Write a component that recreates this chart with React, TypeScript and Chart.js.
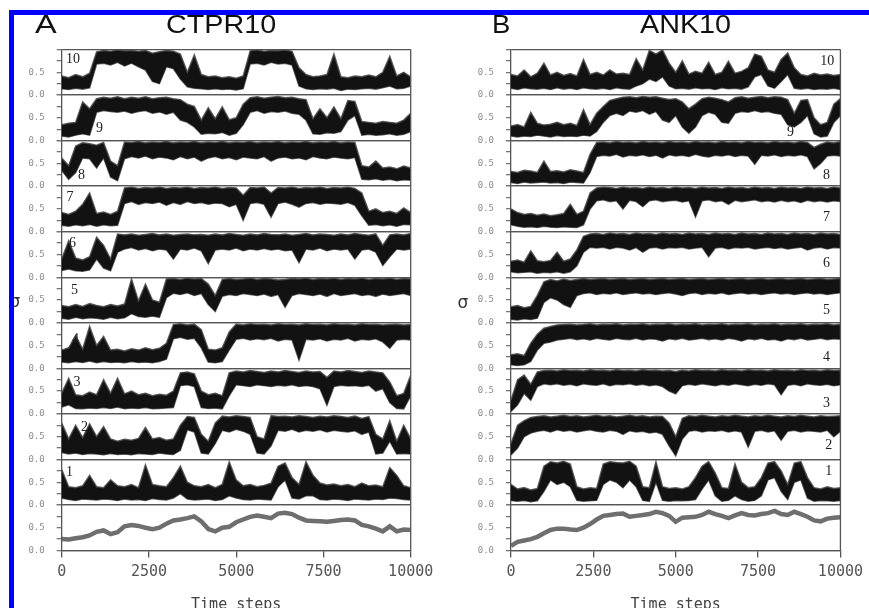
import React, { useEffect, useRef } from 'react';
import { Chart, registerables } from 'chart.js';

Chart.register(...registerables);

// ---------- shared axes ----------
const TIME = [0,200,400,600,800,1000,1200,1400,1600,1800,2000,2200,2400,2600,2800,3000,3200,3400,3600,3800,4000,4200,4400,4600,4800,5000,5200,5400,5600,5800,6000,6200,6400,6600,6800,7000,7200,7400,7600,7800,8000,8200,8400,8600,8800,9000,9200,9400,9600,9800,10000];
const X_TICKS = [0, 2500, 5000, 7500, 10000];
const X_TICK_TEXT = ['0', '2500', '5000', '7500', '10000'];
const Y_TICK_VALUES = [0, 0.5];
const Y_TICK_TEXT = ['0.0', '0.5'];
const STRIP_NAMES = ['1', '2', '3', '4', '5', '6', '7', '8', '9', '10'];

// ---------- Panel A: CTPR10 (upper / lower edge of each trace band) ----------
const A10_HI = [0.42,0.38,0.45,0.40,0.48, 0.95,0.98,0.96,0.99,0.97, 0.98,0.96,0.98,0.92,0.95, 0.98,0.96,0.90,0.50,0.88, 0.45,0.40,0.42,0.38,0.40, 0.37,0.42,0.97,0.99,0.96, 0.98,0.97,0.99,0.96,0.60, 0.45,0.40,0.42,0.45,0.90, 0.40,0.38,0.42,0.40,0.44, 0.40,0.50,0.85,0.42,0.50, 0.40];
const A10_LO = [0.14,0.12,0.15,0.13,0.16, 0.68,0.70,0.66,0.72,0.64, 0.70,0.62,0.55,0.30,0.25, 0.62,0.58,0.35,0.18,0.15, 0.14,0.12,0.14,0.12,0.13, 0.11,0.14,0.68,0.70,0.66, 0.72,0.68,0.70,0.66,0.20, 0.14,0.12,0.14,0.13,0.15, 0.10,0.13,0.12,0.14,0.15, 0.13,0.16,0.20,0.14,0.15, 0.20];
const A9_HI = [0.35,0.38,0.40,0.85,0.70, 0.92,0.95,0.93,0.96,0.92, 0.95,0.93,0.96,0.92,0.94, 0.95,0.92,0.90,0.80,0.75, 0.45,0.72,0.48,0.74,0.46, 0.50,0.80,0.94,0.96,0.93, 0.95,0.97,0.94,0.95,0.92, 0.90,0.48,0.70,0.50,0.74, 0.48,0.88,0.86,0.42,0.40, 0.38,0.42,0.40,0.38,0.45, 0.60];
const A9_LO = [0.10,0.08,0.12,0.15,0.12, 0.62,0.66,0.64,0.62,0.65, 0.60,0.64,0.66,0.60,0.63, 0.58,0.62,0.45,0.40,0.30, 0.14,0.16,0.15,0.18,0.12, 0.16,0.35,0.62,0.66,0.60, 0.64,0.62,0.65,0.60,0.58, 0.45,0.15,0.14,0.17,0.16, 0.20,0.45,0.55,0.12,0.14, 0.12,0.13,0.15,0.12,0.14, 0.20];
const A8_HI = [0.62,0.45,0.88,0.95,0.93, 0.90,0.96,0.55,0.45,0.97, 0.96,0.98,0.95,0.97,0.96, 0.98,0.95,0.97,0.96,0.98, 0.95,0.97,0.96,0.98,0.95, 0.97,0.96,0.98,0.95,0.97, 0.96,0.98,0.95,0.97,0.96, 0.98,0.95,0.97,0.96,0.98, 0.95,0.97,0.96,0.45,0.42, 0.55,0.40,0.42,0.38,0.44, 0.40];
const A8_LO = [0.35,0.15,0.30,0.62,0.60, 0.40,0.62,0.20,0.12,0.60, 0.65,0.62,0.66,0.60,0.64, 0.62,0.58,0.65,0.60,0.64, 0.55,0.62,0.65,0.60,0.63, 0.58,0.64,0.62,0.60,0.65, 0.55,0.62,0.64,0.60,0.62, 0.58,0.65,0.62,0.60,0.64, 0.62,0.60,0.63,0.15,0.14, 0.16,0.13,0.15,0.12,0.14, 0.13];
const A7_HI = [0.42,0.38,0.45,0.60,0.85, 0.40,0.43,0.38,0.45,0.96, 0.98,0.95,0.97,0.96,0.98, 0.95,0.97,0.96,0.98,0.95, 0.97,0.96,0.98,0.95,0.97, 0.96,0.80,0.97,0.96,0.98, 0.85,0.97,0.96,0.98,0.95, 0.97,0.96,0.98,0.95,0.97, 0.96,0.98,0.95,0.85,0.45, 0.50,0.42,0.45,0.40,0.52, 0.42];
const A7_LO = [0.14,0.12,0.15,0.13,0.16, 0.12,0.15,0.13,0.14,0.62, 0.66,0.60,0.64,0.62,0.65, 0.58,0.64,0.60,0.66,0.62, 0.64,0.60,0.63,0.62,0.55, 0.60,0.25,0.62,0.64,0.60, 0.32,0.62,0.65,0.60,0.54, 0.62,0.64,0.60,0.63,0.62, 0.60,0.64,0.58,0.35,0.14, 0.16,0.13,0.15,0.12,0.16, 0.15];
const A6_HI = [0.40,0.80,0.42,0.38,0.45, 0.88,0.70,0.40,0.95,0.93, 0.95,0.92,0.94,0.96,0.93, 0.95,0.92,0.94,0.95,0.93, 0.94,0.92,0.95,0.93,0.96, 0.94,0.92,0.95,0.93,0.96, 0.94,0.93,0.95,0.92,0.94, 0.96,0.93,0.95,0.94,0.92, 0.95,0.93,0.96,0.94,0.92, 0.95,0.70,0.93,0.95,0.93, 0.96];
const A6_LO = [0.15,0.18,0.14,0.13,0.16, 0.40,0.20,0.14,0.55,0.62, 0.65,0.60,0.63,0.58,0.62, 0.60,0.40,0.62,0.60,0.64, 0.58,0.30,0.60,0.62,0.60, 0.64,0.58,0.62,0.60,0.63, 0.60,0.62,0.58,0.60,0.32, 0.62,0.60,0.64,0.58,0.62, 0.60,0.62,0.40,0.60,0.62, 0.55,0.26,0.45,0.62,0.60, 0.62];
const A5_HI = [0.38,0.35,0.40,0.36,0.42, 0.38,0.35,0.40,0.37,0.41, 0.96,0.48,0.85,0.50,0.45, 0.96,0.97,0.95,0.98,0.96, 0.97,0.85,0.60,0.95,0.97, 0.95,0.96,0.98,0.95,0.97, 0.96,0.94,0.95,0.97,0.96, 0.98,0.95,0.97,0.96,0.98, 0.95,0.97,0.96,0.98,0.95, 0.97,0.96,0.98,0.95,0.97, 0.96];
const A5_LO = [0.10,0.08,0.12,0.09,0.11, 0.10,0.08,0.12,0.09,0.11, 0.20,0.14,0.12,0.15,0.12, 0.55,0.65,0.62,0.66,0.60, 0.64,0.40,0.25,0.58,0.62, 0.60,0.64,0.62,0.60,0.63, 0.58,0.62,0.34,0.60,0.64, 0.62,0.60,0.63,0.58,0.64, 0.60,0.62,0.64,0.60,0.62, 0.58,0.63,0.60,0.62,0.64, 0.60];
const A4_HI = [0.40,0.45,0.72,0.42,0.92, 0.50,0.70,0.40,0.42,0.38, 0.43,0.40,0.45,0.41,0.44, 0.55,0.96,0.98,0.95,0.97, 0.85,0.42,0.40,0.45,0.80, 0.97,0.95,0.98,0.96,0.97, 0.95,0.98,0.96,0.97,0.95, 0.98,0.96,0.97,0.95,0.98, 0.96,0.97,0.95,0.98,0.96, 0.97,0.95,0.96,0.97,0.95, 0.96];
const A4_LO = [0.14,0.12,0.15,0.13,0.16, 0.12,0.15,0.13,0.14,0.12, 0.15,0.13,0.14,0.12,0.15, 0.20,0.65,0.68,0.64,0.66, 0.45,0.14,0.12,0.15,0.40, 0.64,0.66,0.62,0.65,0.63, 0.66,0.60,0.64,0.62,0.18, 0.64,0.62,0.65,0.60,0.64, 0.62,0.66,0.60,0.64,0.62, 0.65,0.58,0.44,0.62,0.64, 0.62];
const A3_HI = [0.45,0.78,0.42,0.40,0.48, 0.42,0.75,0.45,0.78,0.44, 0.50,0.42,0.45,0.40,0.43, 0.41,0.50,0.90,0.92,0.88, 0.50,0.42,0.45,0.40,0.90, 0.94,0.92,0.95,0.93,0.91, 0.94,0.92,0.95,0.93,0.91, 0.94,0.92,0.93,0.80,0.94, 0.92,0.95,0.93,0.91,0.94, 0.92,0.90,0.70,0.40,0.45, 0.85];
const A3_LO = [0.15,0.20,0.12,0.11,0.13, 0.12,0.14,0.12,0.15,0.11, 0.13,0.12,0.14,0.11,0.12, 0.13,0.14,0.62,0.64,0.60, 0.14,0.12,0.13,0.11,0.40, 0.64,0.62,0.60,0.64,0.62, 0.60,0.63,0.61,0.64,0.60, 0.62,0.60,0.55,0.19,0.60, 0.63,0.61,0.62,0.60,0.63, 0.50,0.55,0.25,0.12,0.11, 0.40];
const A2_HI = [0.80,0.45,0.75,0.48,0.78, 0.50,0.72,0.45,0.40,0.44, 0.42,0.46,0.70,0.45,0.48, 0.42,0.45,0.75,0.94,0.92, 0.55,0.40,0.80,0.95,0.93, 0.96,0.94,0.92,0.50,0.45, 0.96,0.94,0.95,0.93,0.96, 0.94,0.92,0.95,0.93,0.96, 0.94,0.92,0.95,0.90,0.94, 0.55,0.45,0.85,0.40,0.75, 0.45];
const A2_LO = [0.15,0.12,0.14,0.11,0.13, 0.12,0.10,0.13,0.11,0.12, 0.10,0.13,0.12,0.11,0.14, 0.12,0.11,0.20,0.65,0.60, 0.14,0.12,0.35,0.64,0.60, 0.66,0.62,0.55,0.14,0.12, 0.30,0.64,0.62,0.66,0.60, 0.64,0.62,0.65,0.60,0.64, 0.62,0.60,0.63,0.55,0.60, 0.12,0.14,0.40,0.12,0.13, 0.12];
const A1_HI = [0.78,0.40,0.38,0.42,0.65, 0.40,0.38,0.55,0.42,0.40, 0.45,0.38,0.88,0.45,0.42, 0.40,0.60,0.85,0.50,0.42, 0.40,0.45,0.38,0.45,0.95, 0.55,0.42,0.45,0.40,0.43, 0.48,0.85,0.92,0.60,0.45, 0.95,0.65,0.48,0.44,0.46, 0.42,0.45,0.40,0.48,0.42, 0.44,0.40,0.82,0.65,0.42, 0.38];
const A1_LO = [0.15,0.12,0.10,0.13,0.12, 0.11,0.13,0.12,0.10,0.13, 0.11,0.12,0.10,0.14,0.12, 0.11,0.15,0.25,0.13,0.11, 0.12,0.13,0.10,0.12,0.20, 0.15,0.12,0.11,0.13,0.12, 0.11,0.40,0.55,0.15,0.13, 0.20,0.20,0.12,0.11,0.13, 0.12,0.10,0.13,0.12,0.11, 0.13,0.12,0.15,0.14,0.12, 0.11];
const A_AVG = [0.25,0.24,0.27,0.29,0.33, 0.41,0.44,0.36,0.40,0.53, 0.56,0.54,0.50,0.47,0.50, 0.59,0.66,0.68,0.71,0.75, 0.64,0.47,0.42,0.50,0.52, 0.62,0.68,0.74,0.77,0.74, 0.71,0.81,0.83,0.80,0.72, 0.66,0.65,0.64,0.63,0.65, 0.67,0.68,0.66,0.56,0.53, 0.48,0.42,0.53,0.42,0.46, 0.45];
const A_LABEL_T = [223, 653, 438, 395, 367, 309, 238, 567, 1083, 324];
const A_LABEL_V = [0.72, 0.70, 0.69, 0.64, 0.71, 0.74, 0.75, 0.24, 0.27, 0.79];

// ---------- Panel B: ANK10 ----------
const B10_HI = [0.45,0.42,0.55,0.40,0.48, 0.70,0.44,0.50,0.43,0.47, 0.42,0.78,0.45,0.50,0.44, 0.55,0.46,0.48,0.45,0.80, 0.55,0.98,0.90,0.99,0.70, 0.50,0.75,0.46,0.52,0.48, 0.72,0.45,0.50,0.74,0.48, 0.52,0.60,0.90,0.85,0.55, 0.50,0.78,0.92,0.60,0.45, 0.42,0.48,0.44,0.46,0.43, 0.45];
const B10_LO = [0.15,0.12,0.16,0.14,0.13, 0.15,0.12,0.16,0.13,0.15, 0.12,0.16,0.14,0.13,0.15, 0.12,0.16,0.14,0.13,0.20, 0.25,0.35,0.30,0.40,0.20, 0.14,0.15,0.13,0.16,0.14, 0.15,0.12,0.16,0.14,0.15, 0.13,0.18,0.40,0.45,0.20, 0.15,0.30,0.45,0.15,0.13, 0.15,0.12,0.14,0.13,0.15, 0.12];
const B9_HI = [0.32,0.35,0.30,0.62,0.38, 0.34,0.36,0.40,0.35,0.38, 0.33,0.68,0.35,0.60,0.75, 0.88,0.92,0.95,0.96,0.94, 0.97,0.95,0.96,0.93,0.90, 0.92,0.85,0.70,0.80,0.92, 0.95,0.93,0.90,0.85,0.94, 0.96,0.93,0.95,0.97,0.94, 0.96,0.95,0.90,0.60,0.88, 0.90,0.50,0.35,0.40,0.80, 0.92];
const B9_LO = [0.10,0.08,0.10,0.09,0.12, 0.10,0.08,0.11,0.09,0.10, 0.09,0.12,0.10,0.20,0.40, 0.55,0.60,0.55,0.65,0.62, 0.66,0.58,0.64,0.45,0.40, 0.55,0.30,0.16,0.30,0.55, 0.62,0.58,0.40,0.38,0.60, 0.64,0.62,0.66,0.62,0.64, 0.60,0.58,0.35,0.30,0.40, 0.55,0.15,0.08,0.10,0.40, 0.55];
const B8_HI = [0.32,0.30,0.35,0.33,0.30, 0.55,0.32,0.34,0.31,0.36, 0.33,0.30,0.70,0.96,0.97, 0.95,0.98,0.96,0.97,0.95, 0.98,0.96,0.97,0.95,0.98, 0.96,0.97,0.95,0.98,0.96, 0.97,0.95,0.98,0.96,0.97, 0.95,0.98,0.96,0.97,0.95, 0.98,0.96,0.97,0.95,0.98, 0.96,0.85,0.92,0.97,0.95, 0.98];
const B8_LO = [0.08,0.06,0.09,0.07,0.08, 0.09,0.07,0.08,0.06,0.09, 0.08,0.07,0.30,0.65,0.68, 0.66,0.70,0.64,0.68,0.66, 0.69,0.65,0.68,0.62,0.69, 0.66,0.68,0.65,0.70,0.66, 0.64,0.68,0.66,0.69,0.65, 0.68,0.66,0.48,0.68,0.66, 0.69,0.65,0.68,0.66,0.69, 0.65,0.38,0.50,0.66,0.68, 0.66];
const B7_HI = [0.50,0.42,0.38,0.40,0.36, 0.39,0.35,0.37,0.40,0.60, 0.38,0.45,0.85,0.96,0.98, 0.97,0.95,0.98,0.96,0.97, 0.95,0.98,0.96,0.97,0.95, 0.98,0.96,0.97,0.95,0.98, 0.96,0.97,0.95,0.98,0.96, 0.97,0.95,0.98,0.96,0.97, 0.95,0.98,0.96,0.97,0.95, 0.98,0.96,0.97,0.95,0.98, 0.96];
const B7_LO = [0.15,0.12,0.10,0.11,0.09, 0.12,0.10,0.09,0.11,0.10, 0.09,0.15,0.50,0.68,0.70, 0.66,0.68,0.50,0.69,0.66, 0.55,0.68,0.70,0.66,0.68, 0.69,0.65,0.68,0.32,0.68, 0.70,0.66,0.68,0.60,0.69, 0.66,0.68,0.70,0.66,0.68, 0.65,0.69,0.66,0.68,0.64, 0.69,0.66,0.68,0.65,0.68, 0.66];
const B6_HI = [0.35,0.38,0.33,0.58,0.36, 0.34,0.37,0.55,0.35,0.40, 0.60,0.90,0.95,0.96,0.94, 0.97,0.95,0.96,0.94,0.97, 0.95,0.96,0.94,0.97,0.95, 0.96,0.94,0.97,0.95,0.96, 0.94,0.97,0.95,0.96,0.94, 0.97,0.95,0.96,0.94,0.97, 0.95,0.96,0.94,0.97,0.95, 0.96,0.94,0.97,0.95,0.96, 0.94];
const B6_LO = [0.12,0.10,0.11,0.12,0.09, 0.11,0.10,0.12,0.09,0.12, 0.25,0.55,0.66,0.64,0.66, 0.62,0.66,0.64,0.60,0.65, 0.55,0.64,0.66,0.62,0.65, 0.64,0.66,0.62,0.64,0.66, 0.45,0.64,0.66,0.62,0.65, 0.64,0.66,0.62,0.64,0.66, 0.63,0.65,0.62,0.64,0.66, 0.60,0.64,0.66,0.62,0.65, 0.64];
const B5_HI = [0.35,0.38,0.33,0.36,0.60, 0.90,0.95,0.92,0.96,0.93, 0.95,0.97,0.95,0.96,0.97, 0.95,0.96,0.97,0.95,0.96, 0.97,0.95,0.96,0.97,0.95, 0.96,0.97,0.95,0.96,0.97, 0.95,0.96,0.97,0.95,0.96, 0.97,0.95,0.96,0.97,0.95, 0.96,0.97,0.95,0.96,0.97, 0.95,0.96,0.97,0.95,0.96, 0.97];
const B5_LO = [0.08,0.06,0.09,0.07,0.10, 0.45,0.55,0.50,0.40,0.34, 0.60,0.64,0.66,0.62,0.65, 0.63,0.66,0.62,0.64,0.66, 0.63,0.65,0.62,0.64,0.66, 0.63,0.60,0.64,0.66,0.62, 0.65,0.63,0.66,0.62,0.64, 0.66,0.63,0.65,0.62,0.64, 0.66,0.63,0.65,0.62,0.64, 0.66,0.63,0.65,0.62,0.64, 0.66];
const B4_HI = [0.30,0.32,0.28,0.55,0.75, 0.88,0.92,0.95,0.96,0.97, 0.95,0.96,0.98,0.95,0.97, 0.96,0.98,0.95,0.97,0.96, 0.98,0.95,0.97,0.96,0.98, 0.95,0.97,0.96,0.98,0.95, 0.97,0.96,0.98,0.95,0.97, 0.96,0.98,0.95,0.97,0.96, 0.98,0.95,0.97,0.96,0.98, 0.95,0.97,0.96,0.98,0.95, 0.97];
const B4_LO = [0.08,0.06,0.08,0.15,0.40, 0.55,0.58,0.62,0.64,0.66, 0.63,0.65,0.62,0.66,0.64, 0.62,0.66,0.64,0.63,0.66, 0.62,0.65,0.64,0.60,0.65, 0.63,0.66,0.62,0.64,0.66, 0.63,0.65,0.62,0.66,0.64, 0.60,0.65,0.63,0.66,0.62, 0.64,0.60,0.65,0.63,0.66, 0.62,0.64,0.66,0.63,0.65, 0.64];
const B3_HI = [0.30,0.75,0.85,0.65,0.92, 0.95,0.96,0.94,0.97,0.95, 0.96,0.94,0.97,0.95,0.96, 0.94,0.97,0.95,0.96,0.94, 0.97,0.95,0.96,0.94,0.95, 0.93,0.96,0.94,0.97,0.95, 0.96,0.94,0.97,0.95,0.96, 0.94,0.97,0.95,0.96,0.94, 0.97,0.95,0.96,0.94,0.97, 0.95,0.96,0.94,0.97,0.95, 0.96];
const B3_LO = [0.05,0.20,0.45,0.30,0.60, 0.66,0.64,0.66,0.63,0.65, 0.62,0.66,0.64,0.63,0.66, 0.62,0.65,0.64,0.66,0.63, 0.65,0.62,0.64,0.60,0.50, 0.44,0.62,0.65,0.63,0.66, 0.64,0.62,0.65,0.63,0.66, 0.64,0.62,0.65,0.63,0.66, 0.64,0.42,0.63,0.65,0.62, 0.66,0.64,0.63,0.65,0.62, 0.64];
const B2_HI = [0.35,0.75,0.85,0.92,0.94, 0.96,0.93,0.95,0.97,0.94, 0.96,0.93,0.95,0.97,0.94, 0.96,0.93,0.95,0.97,0.94, 0.96,0.93,0.95,0.94,0.80, 0.50,0.90,0.96,0.94,0.97, 0.95,0.93,0.96,0.94,0.97, 0.95,0.93,0.96,0.94,0.97, 0.95,0.93,0.96,0.94,0.97, 0.95,0.93,0.96,0.94,0.95, 0.96];
const B2_LO = [0.10,0.25,0.50,0.58,0.62, 0.64,0.60,0.65,0.62,0.64, 0.60,0.63,0.65,0.62,0.60, 0.64,0.62,0.55,0.63,0.60, 0.62,0.58,0.60,0.55,0.30, 0.08,0.45,0.62,0.64,0.60, 0.63,0.62,0.64,0.60,0.63, 0.60,0.27,0.62,0.64,0.60, 0.63,0.42,0.62,0.64,0.60, 0.63,0.62,0.60,0.64,0.50, 0.62];
const B1_HI = [0.45,0.35,0.38,0.33,0.36, 0.85,0.95,0.92,0.96,0.90, 0.40,0.35,0.38,0.36,0.90, 0.95,0.93,0.92,0.96,0.85, 0.40,0.38,0.95,0.40,0.36, 0.38,0.35,0.40,0.60,0.85, 0.95,0.70,0.38,0.36,0.90, 0.50,0.38,0.40,0.60,0.92, 0.95,0.75,0.45,0.92,0.95, 0.60,0.38,0.35,0.40,0.36, 0.38];
const B1_LO = [0.10,0.08,0.10,0.07,0.09, 0.30,0.55,0.45,0.50,0.40, 0.10,0.08,0.09,0.10,0.45, 0.55,0.50,0.38,0.55,0.40, 0.10,0.08,0.50,0.10,0.08, 0.10,0.09,0.10,0.12,0.35, 0.55,0.20,0.08,0.10,0.20, 0.12,0.08,0.10,0.20,0.55, 0.60,0.30,0.12,0.50,0.55, 0.15,0.08,0.10,0.09,0.08, 0.10];
const B_AVG = [0.10,0.19,0.22,0.25,0.30, 0.38,0.45,0.48,0.48,0.46, 0.45,0.50,0.58,0.68,0.76, 0.78,0.80,0.81,0.74,0.76, 0.78,0.80,0.85,0.82,0.76, 0.63,0.72,0.73,0.74,0.78, 0.85,0.80,0.76,0.71,0.77, 0.82,0.78,0.77,0.80,0.82, 0.87,0.80,0.78,0.85,0.80, 0.74,0.66,0.64,0.70,0.72, 0.73];
const B_LABEL_T = [9646, 9646, 9575, 9575, 9575, 9575, 9575, 9575, 8484, 9603];
const B_LABEL_V = [0.74, 0.31, 0.23, 0.24, 0.27, 0.31, 0.31, 0.24, 0.19, 0.75];

// ---------- layout / style ----------
const CANVAS_H = 620;
const PLOT_TOP = 49.5;
const PLOT_BOTTOM = 550.5;
const AXIS_GREY = '#555';
const BAND = '#121212';
const EDGE = 'rgba(70,70,70,0.85)';
const AVG_GREY = '#6e6e6e';

type Spec = {
  strips: number[][][];
  avg: number[];
  labelT: number[];
  labelV: number[];
  width: number;
  plotLeft: number;
  plotRight: number;
};

const SPEC_A: Spec = {
  strips: [[A1_HI, A1_LO], [A2_HI, A2_LO], [A3_HI, A3_LO], [A4_HI, A4_LO], [A5_HI, A5_LO], [A6_HI, A6_LO], [A7_HI, A7_LO], [A8_HI, A8_LO], [A9_HI, A9_LO], [A10_HI, A10_LO]],
  avg: A_AVG, labelT: A_LABEL_T, labelV: A_LABEL_V,
  width: 440, plotLeft: 61.7, plotRight: 410.7,
};
const SPEC_B: Spec = {
  strips: [[B1_HI, B1_LO], [B2_HI, B2_LO], [B3_HI, B3_LO], [B4_HI, B4_LO], [B5_HI, B5_LO], [B6_HI, B6_LO], [B7_HI, B7_LO], [B8_HI, B8_LO], [B9_HI, B9_LO], [B10_HI, B10_LO]],
  avg: B_AVG, labelT: B_LABEL_T, labelV: B_LABEL_V,
  width: 419, plotLeft: 61, plotRight: 409.3,
};

function pts(vals: number[]) {
  return TIME.map((t, i) => ({ x: t, y: vals[i] }));
}

function buildConfig(spec: Spec): any {
  const datasets: any[] = [];
  spec.strips.forEach(([hi, lo], idx) => {
    const axis = 'y' + (idx + 1);
    datasets.push({ data: pts(hi), yAxisID: axis, fill: '+1', backgroundColor: BAND, borderColor: EDGE, borderWidth: 1.5, pointRadius: 0, tension: 0 });
    datasets.push({ data: pts(lo), yAxisID: axis, fill: false, borderColor: EDGE, borderWidth: 1.5, pointRadius: 0, tension: 0 });
  });
  datasets.push({ data: pts(spec.avg), yAxisID: 'y0', fill: false, borderColor: AVG_GREY, borderWidth: 4.5, pointRadius: 0, tension: 0 });

  const scales: any = {
    x: {
      type: 'linear', min: 0, max: 10000,
      ticks: {
        stepSize: 2500, autoSkip: false, maxRotation: 0, padding: 6,
        color: '#555', font: { family: '"DejaVu Sans Mono", monospace', size: 15 },
        callback: (v: number) => { const i = X_TICKS.indexOf(v); return i >= 0 ? X_TICK_TEXT[i] : ''; },
      },
      grid: { drawOnChartArea: false, drawTicks: true, tickLength: 7, tickColor: AXIS_GREY, lineWidth: 1.3 },
      border: { display: true, color: AXIS_GREY, width: 1.3 },
      title: { display: true, text: 'Time steps', color: '#444', font: { family: '"DejaVu Sans Mono", monospace', size: 15 }, padding: { top: 0, bottom: 6 } },
      afterFit: (s: any) => { s.height = CANVAS_H - PLOT_BOTTOM; },
    },
  };
  for (let k = 0; k <= 10; k++) {
    scales['y' + k] = {
      type: 'linear', position: 'left', stack: 'strips', stackWeight: 1, weight: k, offset: false,
      min: 0, max: 1,
      ticks: {
        stepSize: 0.25, autoSkip: false, padding: 12, color: '#8c8c8c',
        font: { family: '"DejaVu Sans Mono", monospace', size: 9 },
        callback: (v: number) => { const i = Y_TICK_VALUES.indexOf(v); return i >= 0 ? Y_TICK_TEXT[i] : ''; },
      },
      grid: {
        color: (c: any) => (c.tick && (c.tick.value === 0 || c.tick.value === 1)) ? AXIS_GREY : 'rgba(0,0,0,0)',
        tickColor: '#777', tickLength: 5, lineWidth: 1.3,
      },
      border: { display: true, color: AXIS_GREY, width: 1.3 },
      afterFit: (s: any) => { s.width = spec.plotLeft; },
    };
  }

  const annotate = {
    id: 'stripAnnotations',
    afterDatasetsDraw(chart: any) {
      const { ctx, chartArea } = chart;
      const xs = chart.scales.x;
      ctx.save();
      ctx.font = '14px "Liberation Serif", serif';
      ctx.fillStyle = '#222';
      ctx.textAlign = 'center';
      ctx.textBaseline = 'middle';
      STRIP_NAMES.forEach((name, i) => {
        const ys = chart.scales['y' + (i + 1)];
        ctx.fillText(name, xs.getPixelForValue(spec.labelT[i]), ys.getPixelForValue(spec.labelV[i]));
      });
      ctx.strokeStyle = AXIS_GREY;
      ctx.lineWidth = 1.3;
      ctx.beginPath();
      ctx.moveTo(chartArea.right, chartArea.top);
      ctx.lineTo(chartArea.right, chartArea.bottom);
      ctx.stroke();
      ctx.restore();
    },
  };

  return {
    type: 'line',
    data: { datasets },
    options: {
      animation: false,
      responsive: false,
      maintainAspectRatio: false,
      devicePixelRatio: 1,
      layout: { autoPadding: false, padding: { top: PLOT_TOP, left: 0, bottom: 0, right: spec.width - spec.plotRight } },
      plugins: { legend: { display: false }, tooltip: { enabled: false } },
      scales,
    },
    plugins: [annotate],
  };
}

export default function App() {
  const refA = useRef<HTMLCanvasElement>(null);
  const refB = useRef<HTMLCanvasElement>(null);
  useEffect(() => {
    const a = new Chart(refA.current as HTMLCanvasElement, buildConfig(SPEC_A));
    const b = new Chart(refB.current as HTMLCanvasElement, buildConfig(SPEC_B));
    return () => { a.destroy(); b.destroy(); };
  }, []);

  const heading: React.CSSProperties = {
    position: 'absolute', top: 12, fontFamily: '"Liberation Sans", Arial, sans-serif', fontSize: 25,
    lineHeight: '25px', color: '#111', whiteSpace: 'nowrap', transformOrigin: 'left top',
  };
  const sigma: React.CSSProperties = {
    position: 'absolute', fontFamily: '"DejaVu Sans", sans-serif', fontSize: 17, lineHeight: '17px', color: '#333',
    transform: 'translate(-50%, -50%)',
  };

  return (
    <div style={{ position: 'fixed', left: 0, top: 0, width: 869, height: 608, overflow: 'hidden', background: '#fff' }}>
      <canvas ref={refA} width={440} height={CANVAS_H} style={{ position: 'absolute', left: 0, top: 0, width: 440, height: CANVAS_H }} />
      <canvas ref={refB} width={419} height={CANVAS_H} style={{ position: 'absolute', left: 450, top: 0, width: 419, height: CANVAS_H }} />
      <div style={{ ...heading, left: 35, transform: 'scaleX(1.3)' }}>A</div>
      <div style={{ ...heading, left: 166, transform: 'scaleX(1.15)' }}>CTPR10</div>
      <div style={{ ...heading, left: 492, transform: 'scaleX(1.1)' }}>B</div>
      <div style={{ ...heading, left: 640, transform: 'scaleX(1.15)' }}>ANK10</div>
      <div style={{ ...sigma, left: 15, top: 301 }}>σ</div>
      <div style={{ ...sigma, left: 463, top: 302 }}>σ</div>
      <div style={{ position: 'absolute', left: 9, top: 10, width: 860, height: 5, background: '#0000ff' }} />
      <div style={{ position: 'absolute', left: 9, top: 10, width: 5, height: 598, background: '#0000ff' }} />
    </div>
  );
}
